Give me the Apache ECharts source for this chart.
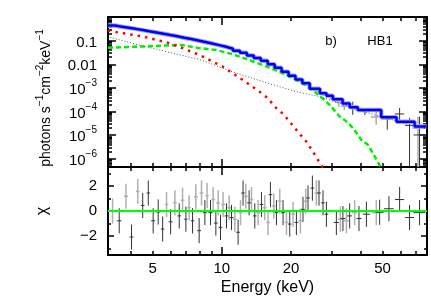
<!DOCTYPE html>
<html><head><meta charset="utf-8">
<script src="https://cdn.jsdelivr.net/npm/echarts@6/dist/echarts.min.js"></script>
<style>html,body{margin:0;padding:0;background:#fff}#c{width:431px;height:299px}</style>
</head><body><div id="c"></div>
<script>
// ---------- axis ranges & ticks ----------
const E_MIN = 3.2, E_MAX = 78;
const F_MIN = 4.5e-7, F_MAX = 1.0;
const CHI_MIN = -3.5, CHI_MAX = 3.5;
const xTickLabels = [5, 10, 20, 50];
const xMajorTicks = [10];
const xMinorTicks = [4, 5, 6, 7, 8, 9, 20, 30, 40, 50, 60, 70];
const yTickLabels = [0.1, 0.01, 1e-3, 1e-4, 1e-5, 1e-6];
const chiTickLabels = [-2, 0, 2];
const chiMajorTicks = [-2, 0, 2];
const chiMinorTicks = [-3, -1, 1, 3];

// ---------- total model (step histogram) ----------
const modelBinEdges = [3.2, 3.43, 3.68, 3.94, 4.22, 4.53, 4.85, 5.2, 5.58, 5.98, 6.41, 6.87, 7.37, 7.9, 8.47,
  9.08, 9.73, 10.43, 11.18, 11.99, 12.85, 13.78, 14.77, 15.83, 16.97, 18.19, 19.5, 20.9, 22.4, 24.1, 26.7,
  28.5, 30.4, 33.5, 36.0, 39.0, 49.3, 57.5, 68.9, 77.6];
const modelTotal = [0.435, 0.390, 0.351, 0.315, 0.279, 0.247, 0.220, 0.195, 0.172, 0.152, 0.133, 0.117,
  0.102, 0.0881, 0.0753, 0.0644, 0.0548, 0.0453, 0.0372, 0.0306, 0.0237, 0.0182, 0.0140, 0.01005, 0.00705,
  0.00482, 0.00328, 0.00225, 0.00156, 9.3e-4, 6.0e-4, 4.7e-4, 3.3e-4, 2.2e-4, 1.5e-4, 1.17e-4, 5.8e-5,
  3.7e-5, 2.3e-5];

// ---------- model components ----------
const redE = [3.2, 3.26, 4.55, 5.75, 6.68, 8.02, 10.1, 12.3, 14.6, 15.9, 17.0, 18.5, 19.7, 21.4, 23.3, 24.9, 26.7, 28.0];
const redF = [0.263, 0.25, 0.148, 0.085, 0.050, 0.0245, 0.0079, 0.0022, 6.9e-4, 3.6e-4, 1.6e-4, 7.8e-5, 3.8e-5,
  1.4e-5, 5.4e-6, 2.0e-6, 6.6e-7, 3.2e-7];
const greenE = [3.2, 3.26, 4.86, 6.63, 8.02, 9.44, 11.2, 13.2, 16.1, 19.1, 21.8, 23.7, 25.0, 26.2, 28.0, 29.9,
  32.5, 34.8, 37.2, 40.4, 43.2, 46.2, 48.5, 50.0];
const greenF = [0.050, 0.050, 0.058, 0.066, 0.048, 0.040, 0.0263, 0.0151, 0.0072, 0.0035, 0.00186, 0.00112,
  8.3e-4, 5.0e-4, 3.1e-4, 1.6e-4, 6.2e-5, 3.8e-5, 2.0e-5, 6.3e-6, 3.9e-6, 1.26e-6, 5.5e-7, 3.0e-7];
const blackE = [3.26, 4.22, 5.75, 8.02, 11.2, 15.6, 21.1, 26.7, 30.4, 33.5, 39.0, 50.0, 59.0, 69.0, 78.0];
const blackF = [0.138, 0.071, 0.034, 0.0158, 0.0047, 0.00166, 6.9e-4, 4.3e-4, 2.8e-4, 2.0e-4, 1.17e-4,
  5.8e-5, 3.7e-5, 2.4e-5, 1.9e-5];

// ---------- spectrum data points: [E, dE, flux, fluxLo, fluxHi] ----------
const specBlack = [
  [37.1, 1.6, 1.41e-4, 7.2e-5, 2.6e-4],
  [41.9, 2.0, 1.17e-4, 7.2e-5, 1.41e-4],
  [52.4, 2.6, 4.9e-5, 1.7e-5, 7.2e-5],
  [59.3, 2.75, 7.9e-5, 3.3e-5, 1.41e-4],
  [65.5, 3.0, 2.6e-5, 1e-9, 5.4e-5],
  [72.4, 4.3, 1.02e-5, 1e-9, 6.0e-5]
];
const specGrey = [
  [26.7, 0.9, 6.8e-4, 5.4e-4, 8.6e-4],
  [28.5, 1.0, 5.0e-4, 3.9e-4, 6.3e-4],
  [30.4, 1.0, 3.6e-4, 2.8e-4, 4.5e-4],
  [32.2, 1.2, 2.45e-4, 1.58e-4, 3.8e-4],
  [34.1, 1.2, 1.7e-4, 1.17e-4, 2.4e-4],
  [46.9, 2.4, 5.9e-5, 2.75e-5, 1.17e-4],
  [71.3, 4.0, 2.0e-5, 1e-9, 6.0e-5]
];

// ---------- residuals: [E, chi, dE] ----------
const resBlack = [
  [3.58, -0.78, 0.08], [4.05, -2.07, 0.08], [4.53, 0.44, 0.08], [4.79, 1.43, 0.08], [5.03, -0.78, 0.1],
  [5.29, -0.08, 0.1], [5.53, -1.43, 0.1], [5.99, -0.86, 0.12], [6.53, -0.39, 0.12], [6.98, -0.65, 0.12],
  [7.46, -0.78, 0.12], [7.97, -1.56, 0.15], [8.44, -0.13, 0.15], [8.93, -0.13, 0.18], [9.42, -0.96, 0.18],
  [9.87, -1.3, 0.18], [10.48, -0.39, 0.2], [11.02, -0.52, 0.2], [11.77, -1.69, 0.22], [12.37, 1.43, 0.22],
  [13.14, 0.65, 0.25], [13.91, -0.39, 0.25], [14.87, 0.52, 0.28], [16.27, 1.30, 0.3], [17.28, -0.13, 0.3],
  [18.46, -0.13, 0.35], [19.74, -1.04, 0.35], [21.10, -0.91, 0.4], [22.54, 0.13, 0.4], [23.70, 1.04, 0.45],
  [24.76, 1.82, 0.45], [26.46, 1.43, 0.5], [27.54, 0.65, 0.5], [28.49, -0.26, 0.55], [31.48, -0.91, 0.8],
  [33.62, -0.6, 0.8], [35.96, -0.39, 0.9], [39.48, -0.6, 1.0], [42.52, -0.26, 1.5], [48.56, -0.1, 2.0],
  [53.3, 0.18, 2.6], [59.3, 0.91, 2.75], [65.5, -0.52, 3.0], [72.4, -0.13, 4.3]
];
const resGrey = [
  [3.35, 0.0, 0.08], [3.83, 1.17, 0.08], [4.31, 1.56, 0.08], [5.75, 0.52, 0.1], [6.25, 0.65, 0.12],
  [6.75, 0.86, 0.12], [7.21, 0.26, 0.12], [7.71, 1.12, 0.15], [8.16, 1.43, 0.15], [8.63, 1.22, 0.15],
  [9.17, 0.91, 0.18], [9.64, 0.65, 0.18], [10.13, 0.52, 0.2], [10.76, 0.26, 0.2], [11.39, -0.65, 0.22],
  [12.06, -0.13, 0.22], [12.71, 1.17, 0.25], [13.46, 0.91, 0.25], [14.38, -0.13, 0.28], [15.37, 0.26, 0.3],
  [15.89, -0.91, 0.3], [16.82, 0.39, 0.3], [17.86, 0.78, 0.35], [19.10, -0.91, 0.35], [20.40, -0.26, 0.4],
  [21.96, -0.78, 0.4], [23.16, 0.78, 0.45], [25.77, 1.43, 0.5], [32.76, -0.65, 0.8], [34.81, -0.78, 0.9],
  [37.81, -0.13, 1.0], [46.96, -0.13, 2.0]
];

// ---------- build ----------
const lg = Math.log10;
const LX0 = lg(E_MIN), LX1 = lg(E_MAX), LY0 = lg(F_MIN), LY1 = lg(F_MAX);
const FONT = 'Liberation Sans, Arial, sans-serif';

const stepData = modelBinEdges.slice(0, -1).map((e, i) => [lg(e), lg(modelTotal[i])]);
stepData.push([lg(modelBinEdges[modelBinEdges.length - 1]), lg(modelTotal[modelTotal.length - 1])]);
const pairs = (xs, ys) => xs.map((x, i) => [lg(x), lg(ys[i])]);

const specItems = arr => arr.map(d => [lg(d[0]), lg(d[2]), lg(d[0] - d[1]), lg(d[0] + d[1]), lg(d[3]), lg(d[4])]);
const resItems = arr => arr.map(d => [lg(d[0]), d[1], lg(d[0] - d[2]), lg(d[0] + d[2]), d[1] - 1, d[1] + 1]);

let minorY = [];
for (let n = -7; n <= 0; n++) for (let k = 2; k <= 9; k++) { const v = n + lg(k); if (v > LY0 && v < LY1) minorY.push(v); }
const majorY = [];
for (let n = -6; n <= 0; n++) if (n > LY0 && n < LY1) majorY.push(n);

const supFmt = v => {
  const n = Math.round(v);
  if (n === -1) return '{b|0.1}';
  if (n === -2) return '{b|0.01}';
  return '{b|10}{s|\u2212' + (-n) + '}';
};
const RICH = {
  b: { fontSize: 15, lineHeight: 19, verticalAlign: 'bottom', fontFamily: FONT, color: '#000' },
  s: { fontSize: 10, lineHeight: 10, verticalAlign: 'top', fontFamily: FONT, color: '#000' }
};
const RICH_T = {
  b: { fontSize: 14, lineHeight: 18, verticalAlign: 'bottom', fontFamily: FONT, color: '#000' },
  s: { fontSize: 10, lineHeight: 10, verticalAlign: 'top', fontFamily: FONT, color: '#000' }
};

function xAx(grid, pos, ticks, len, line, label) {
  return {
    type: 'value', gridIndex: grid, position: pos, min: LX0, max: LX1,
    axisLine: { show: line, onZero: false, lineStyle: { color: '#000', width: 2 } },
    axisTick: { show: true, inside: true, length: len, customValues: ticks.map(lg), lineStyle: { color: '#000', width: 1.5 } },
    axisLabel: label ? {
      show: true, customValues: xTickLabels.map(lg), margin: 6, fontSize: 15, fontFamily: FONT, color: '#000',
      formatter: v => String(Math.round(Math.pow(10, v)))
    } : { show: false },
    splitLine: { show: false },
    name: label ? 'Energy (keV)' : '', nameLocation: 'middle', nameGap: 25,
    nameTextStyle: { fontSize: 16, fontFamily: FONT, color: '#000' }
  };
}
function yAx(grid, pos, min, max, ticks, len, line, label) {
  return {
    type: 'value', gridIndex: grid, position: pos, min, max,
    axisLine: { show: line, onZero: false, lineStyle: { color: '#000', width: 2 } },
    axisTick: { show: true, inside: true, length: len, customValues: ticks, lineStyle: { color: '#000', width: 1.5 } },
    axisLabel: label || { show: false },
    splitLine: { show: false }
  };
}

const topLabel = {
  show: true, customValues: yTickLabels.map(lg), margin: 11, formatter: supFmt, rich: RICH
};
const chiLabel = {
  show: true, customValues: chiTickLabels, margin: 11, fontSize: 15, fontFamily: FONT, color: '#000',
  formatter: v => (v < 0 ? '\u2212' + (-v) : String(v))
};

const xAxes = [
  xAx(0, 'bottom', xMajorTicks, 8, true, false),
  xAx(0, 'top', xMajorTicks, 8, true, false),
  xAx(0, 'bottom', xMinorTicks, 4, false, false),
  xAx(0, 'top', xMinorTicks, 4, false, false),
  xAx(1, 'bottom', xMajorTicks, 8, true, true),
  xAx(1, 'top', xMajorTicks, 8, true, false),
  xAx(1, 'top', xMinorTicks, 4, false, false),
  xAx(1, 'bottom', xMinorTicks, 4, false, false)
];
const yAxes = [
  yAx(0, 'left', LY0, LY1, majorY, 8, true, topLabel),
  yAx(0, 'right', LY0, LY1, majorY, 8, true, null),
  yAx(0, 'left', LY0, LY1, minorY, 4, false, null),
  yAx(0, 'right', LY0, LY1, minorY, 4, false, null),
  yAx(1, 'left', CHI_MIN, CHI_MAX, chiMajorTicks, 6, true, chiLabel),
  yAx(1, 'right', CHI_MIN, CHI_MAX, chiMajorTicks, 6, true, null),
  yAx(1, 'left', CHI_MIN, CHI_MAX, chiMinorTicks, 3, false, null),
  yAx(1, 'right', CHI_MIN, CHI_MAX, chiMinorTicks, 3, false, null)
];
yAxes[4].name = '\u03c7';
yAxes[4].nameLocation = 'middle';
yAxes[4].nameGap = 57;
yAxes[4].nameRotate = 90;
yAxes[4].nameTextStyle = { fontSize: 16, fontFamily: FONT, color: '#000' };

function errSeries(items, xi, yi, color, w, z) {
  return {
    type: 'custom', xAxisIndex: xi, yAxisIndex: yi, data: items, silent: true, z,
    renderItem(params, api) {
      const cs = params.coordSys;
      const cy = v => Math.max(cs.y, Math.min(cs.y + cs.height, v));
      const c = api.coord([api.value(0), api.value(1)]);
      const xl = api.coord([api.value(2), api.value(1)])[0];
      const xh = api.coord([api.value(3), api.value(1)])[0];
      const yl = api.coord([api.value(0), api.value(4)])[1];
      const yh = api.coord([api.value(0), api.value(5)])[1];
      const st = { stroke: color, lineWidth: w };
      const ch = [{ type: 'line', shape: { x1: c[0], y1: cy(yl), x2: c[0], y2: cy(yh) }, style: st }];
      if (c[1] >= cs.y && c[1] <= cs.y + cs.height)
        ch.push({ type: 'line', shape: { x1: xl, y1: c[1], x2: xh, y2: c[1] }, style: st });
      return { type: 'group', children: ch };
    }
  };
}

const lineS = (data, color, width, type, z) => ({
  type: 'line', xAxisIndex: 0, yAxisIndex: 0, data, showSymbol: false, symbol: 'none', silent: true, z,
  lineStyle: { color, width, type }, clip: true
});

const option = {
  animation: false,
  backgroundColor: '#fff',
  grid: [
    { left: 108, top: 17, width: 319, height: 150, outerBoundsMode: 'none' },
    { left: 108, top: 167, width: 319, height: 88, outerBoundsMode: 'none' }
  ],
  xAxis: xAxes,
  yAxis: yAxes,
  series: [
    errSeries(specItems(specGrey), 0, 0, '#aaaaaa', 1.5, 2),
    errSeries(specItems(specBlack), 0, 0, '#333333', 1, 3),
    Object.assign(lineS(stepData, '#a8a8e0', 4.5, 'solid', 3), { step: 'end' }),
    lineS(pairs(blackE, blackF), '#555555', 1, [1, 2], 4),
    lineS(pairs(greenE, greenF), '#00ee00', 2.5, [5, 3], 5),
    lineS(pairs(redE, redF), '#ff0000', 2.5, [2.5, 5], 6),
    Object.assign(lineS(stepData, '#0000ff', 2.5, 'solid', 7), { step: 'end' }),
    errSeries(resItems(resGrey), 4, 4, '#b0b0b0', 1.5, 2),
    errSeries(resItems(resBlack), 4, 4, '#333333', 1, 3),
    {
      type: 'line', xAxisIndex: 4, yAxisIndex: 4, data: [[LX0, 0], [LX1, 0]], showSymbol: false, symbol: 'none',
      silent: true, z: 5, lineStyle: { color: '#00ff00', width: 2 }
    }
  ],
  graphic: [
    {
      type: 'text', x: 44, y: 98, rotation: Math.PI / 2,
      style: {
        text: '{b|photons s}{s|\u22121}{b|cm}{s|\u22122}{b|keV}{s|\u22121}', rich: RICH_T,
        align: 'center', verticalAlign: 'middle', fill: '#000'
      }
    },
    { type: 'text', x: 331, y: 41, style: { text: 'b)', font: '13px ' + FONT, fill: '#000', align: 'center', verticalAlign: 'middle' } },
    { type: 'text', x: 380, y: 41, style: { text: 'HB1', font: '13px ' + FONT, fill: '#000', align: 'center', verticalAlign: 'middle' } }
  ]
};
echarts.init(document.getElementById('c'), null, { renderer: 'canvas' }).setOption(option);
</script></body></html>
